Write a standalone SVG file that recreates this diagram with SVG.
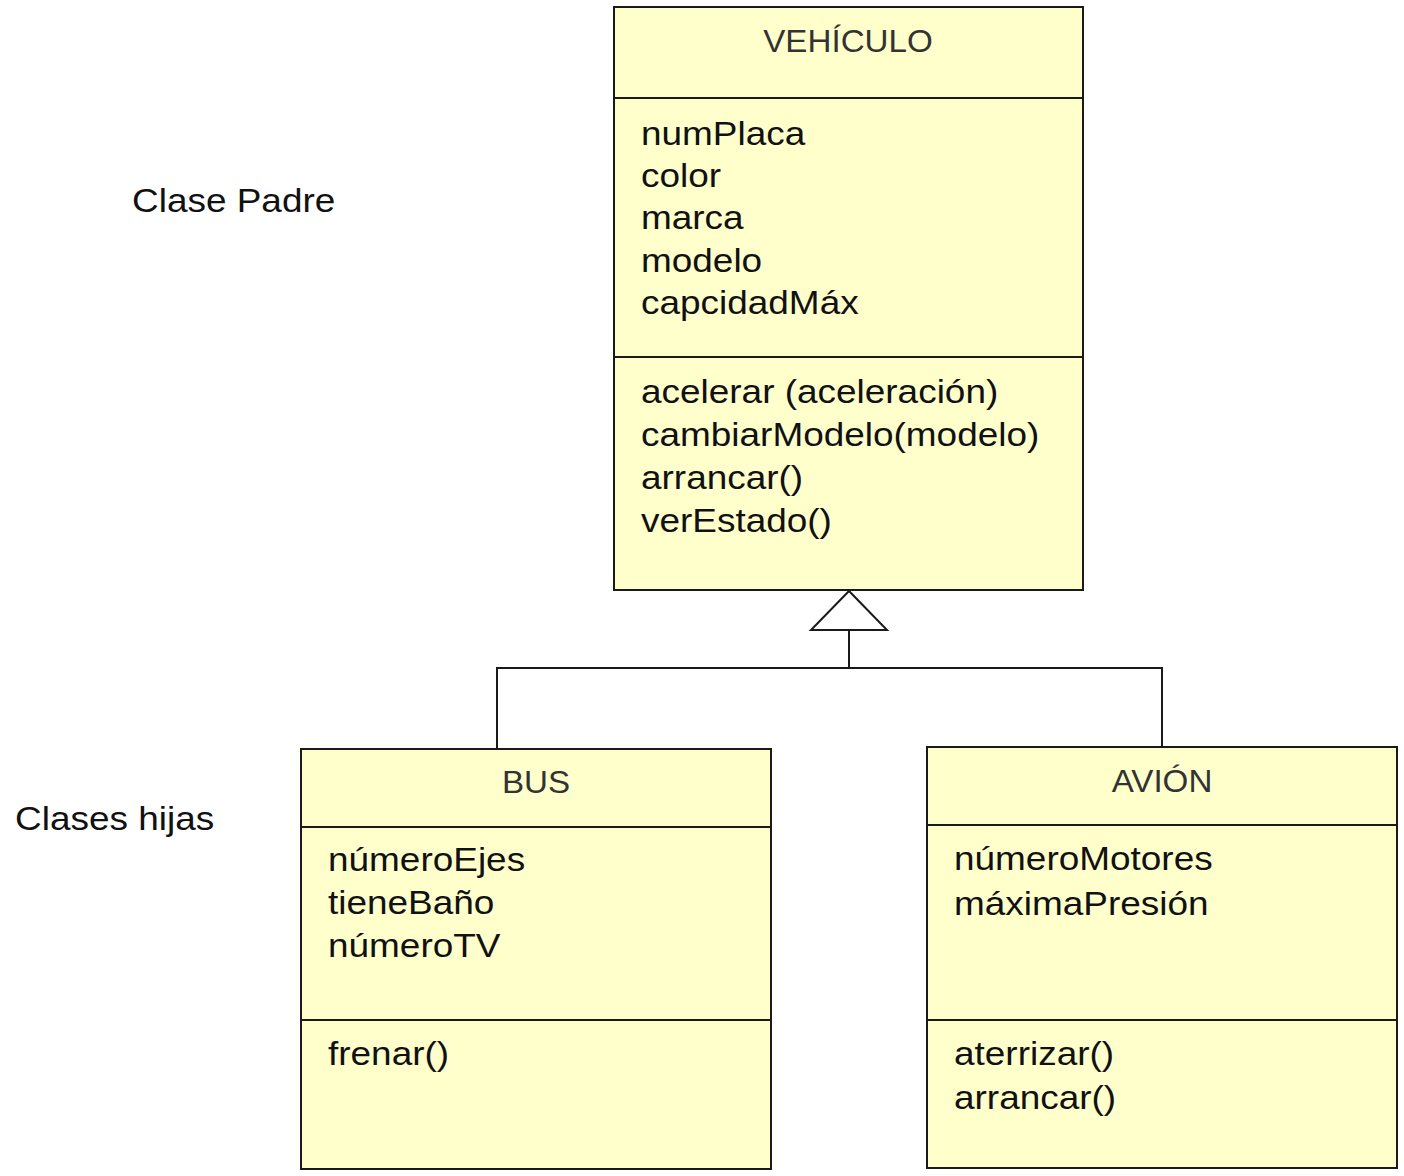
<svg xmlns="http://www.w3.org/2000/svg" width="1404" height="1176" viewBox="0 0 1404 1176">
<style>
  .box { fill: #ffffcc; stroke: #1a1a1a; stroke-width: 2; }
  .sep { stroke: #1a1a1a; stroke-width: 2; }
  .conn { fill: none; stroke: #1a1a1a; stroke-width: 2; }
  .tri { fill: #ffffff; stroke: #1a1a1a; stroke-width: 2; }
  text { font-family: "Liberation Sans", Arial, sans-serif; font-size: 33px; fill: #111111; }
  .hdr { text-anchor: middle; fill: #333333; font-size: 31px; }
</style>
<rect width="1404" height="1176" fill="#ffffff"/>

<g id="labels">
  <text transform="translate(132,212) scale(1.12,1)">Clase Padre</text>
  <text transform="translate(15,830) scale(1.12,1)">Clases hijas</text>
</g>

<g id="connectors">
  <polyline class="conn" points="497,749 497,668 1162,668 1162,747"/>
  <line class="conn" x1="849" y1="630" x2="849" y2="668"/>
  <polygon class="tri" points="849,591 811,630 887,630"/>
</g>

<g id="vehiculo">
  <rect class="box" x="614" y="7" width="469" height="583"/>
  <line class="sep" x1="614" y1="98" x2="1083" y2="98"/>
  <line class="sep" x1="614" y1="357" x2="1083" y2="357"/>
  <text class="hdr" transform="translate(848,52) scale(1.07,1)">VEHÍCULO</text>
  <text transform="translate(641,145) scale(1.12,1)">numPlaca</text>
  <text transform="translate(641,187) scale(1.12,1)">color</text>
  <text transform="translate(641,229) scale(1.12,1)">marca</text>
  <text transform="translate(641,272) scale(1.12,1)">modelo</text>
  <text transform="translate(641,314) scale(1.12,1)">capcidadMáx</text>
  <text transform="translate(641,403) scale(1.12,1)">acelerar (aceleración)</text>
  <text transform="translate(641,446) scale(1.12,1)">cambiarModelo(modelo)</text>
  <text transform="translate(641,489) scale(1.12,1)">arrancar()</text>
  <text transform="translate(641,532) scale(1.12,1)">verEstado()</text>
</g>

<g id="bus">
  <rect class="box" x="301" y="749" width="470" height="420"/>
  <line class="sep" x1="301" y1="827" x2="771" y2="827"/>
  <line class="sep" x1="301" y1="1020" x2="771" y2="1020"/>
  <text class="hdr" transform="translate(536,793) scale(1.07,1)">BUS</text>
  <text transform="translate(328,871) scale(1.12,1)">númeroEjes</text>
  <text transform="translate(328,914) scale(1.12,1)">tieneBaño</text>
  <text transform="translate(328,957) scale(1.12,1)">númeroTV</text>
  <text transform="translate(328,1065) scale(1.12,1)">frenar()</text>
</g>

<g id="avion">
  <rect class="box" x="927" y="747" width="470" height="421"/>
  <line class="sep" x1="927" y1="825" x2="1397" y2="825"/>
  <line class="sep" x1="927" y1="1020" x2="1397" y2="1020"/>
  <text class="hdr" transform="translate(1162,792) scale(1.07,1)">AVIÓN</text>
  <text transform="translate(954,870) scale(1.12,1)">númeroMotores</text>
  <text transform="translate(954,915) scale(1.12,1)">máximaPresión</text>
  <text transform="translate(954,1065) scale(1.12,1)">aterrizar()</text>
  <text transform="translate(954,1109) scale(1.12,1)">arrancar()</text>
</g>
</svg>
